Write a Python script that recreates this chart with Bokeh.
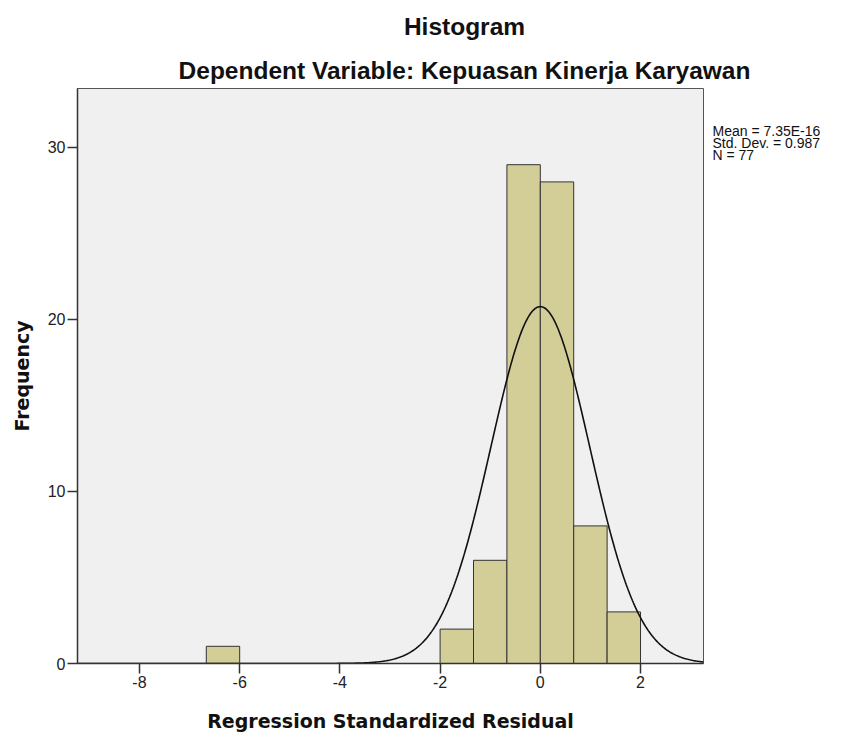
import numpy as np
from bokeh.plotting import figure
from bokeh.models import (Range1d, FixedTicker, LinearAxis, ColumnDataSource,
                          CustomJSTickFormatter, AllLabels)
from bokeh.embed import file_html
from bokeh.resources import INLINE

# ---- data ----
bin_left = [-6.6667, -2.0, -1.3333, -0.6667, 0.0, 0.6667, 1.3333]
bin_right = [-6.0, -1.3333, -0.6667, 0.0, 0.6667, 1.3333, 2.0]
counts = [1, 2, 6, 29, 28, 8, 3]
mean_val = 7.35e-16
std_val = 0.987
n_val = 77
bin_width = 2.0 / 3.0
x_ticks = [-8, -6, -4, -2, 0, 2]
y_ticks = [0, 10, 20, 30]
title_text = "Histogram"
subtitle_text = "Dependent Variable: Kepuasan Kinerja Karyawan"
stats_lines = ["Mean = 7.35E-16", "Std. Dev. = 0.987", "N = 77"]
x_label = "Regression Standardized Residual"
y_label = "Frequency"

X0, X1 = -9.237, 3.257
Y0, Y1 = 0.0, 33.43
FL, FR, FT, FB = 77, 703, 88, 663   # frame edges in page pixels

p = figure(frame_width=FR - FL, frame_height=FB - FT, output_backend="svg",
           toolbar_location=None, x_range=Range1d(X0, X1), y_range=Range1d(Y0, Y1),
           min_border_left=FL, min_border_right=130, min_border_top=FT, min_border_bottom=64)
p.background_fill_color = "#f0f0f0"
p.border_fill_color = "white"
p.outline_line_color = "#555555"
p.grid.visible = False

src = ColumnDataSource(dict(left=bin_left, right=bin_right, top=counts, bottom=[0]*len(counts)))
p.quad(left="left", right="right", top="top", bottom="bottom", source=src,
       fill_color="#d3ce97", line_color="#333333", line_width=1)

# fitted normal curve from the reported statistics
xs = np.linspace(X0, X1, 600)
ys = n_val * bin_width * np.exp(-0.5 * ((xs - mean_val) / std_val) ** 2) / (std_val * np.sqrt(2 * np.pi))
p.line(xs, ys, line_color="#111111", line_width=1.6)

for ax in (p.xaxis, p.yaxis):
    ax.axis_line_color = "#333333"
    ax.axis_line_width = 1.5
    ax.major_tick_line_color = "#333333"
    ax.major_tick_line_width = 1.5
    ax.major_tick_in = 0
    ax.major_tick_out = 10
    ax.minor_tick_line_color = None
    ax.major_label_text_font = "Liberation Sans"
    ax.major_label_text_font_size = "16px"
    ax.major_label_text_color = "#222222"
    ax.axis_label_text_font = "DejaVu Sans"
    ax.axis_label_text_font_style = "bold"
    ax.axis_label_text_font_size = "19px"
    ax.axis_label_text_color = "#111111"

p.xaxis.ticker = FixedTicker(ticks=x_ticks)
p.yaxis.ticker = FixedTicker(ticks=y_ticks)
p.xaxis.major_label_overrides = {t: str(t) for t in x_ticks}
p.yaxis.major_label_overrides = {t: str(t) for t in y_ticks}
p.xaxis.axis_label = x_label
p.yaxis.axis_label = y_label
p.xaxis.major_label_standoff = 2
p.yaxis.major_label_standoff = 2
p.xaxis.axis_label_standoff = 19
p.yaxis.axis_label_standoff = 12

# page-pixel -> data helpers
def px_x(px):
    return X0 + (px - FL) / (FR - FL) * (X1 - X0)

def px_y(py):
    return Y0 + (FB - py) / (FB - FT) * (Y1 - Y0)

def text_axis(side, ticks, labels, size, bold, standoff):
    ax = LinearAxis(ticker=FixedTicker(ticks=ticks),
                    formatter=CustomJSTickFormatter(args=dict(labels=labels),
                                                    code="return labels[index];"),
                    major_label_policy=AllLabels())
    ax.axis_line_color = None
    ax.major_tick_line_color = None
    ax.minor_tick_line_color = None
    ax.major_tick_in = 0
    ax.major_tick_out = 0
    ax.major_label_standoff = standoff
    ax.major_label_text_font = "Liberation Sans"
    ax.major_label_text_font_style = "bold" if bold else "normal"
    ax.major_label_text_font_size = size
    ax.major_label_text_color = "#111111"
    p.add_layout(ax, side)
    return ax

# subtitle (closest to frame), then main title above it
text_axis("above", [px_x(464)], [subtitle_text], "24.5px", True, 5)
text_axis("above", [px_x(464)], [title_text], "24.5px", True, 14)
# statistics block to the right of the frame
text_axis("right", [px_y(130.5 + 11.8 * i) for i in range(3)], stats_lines, "14px", False, 9)

open("out.html", "w").write(file_html(p, INLINE))
